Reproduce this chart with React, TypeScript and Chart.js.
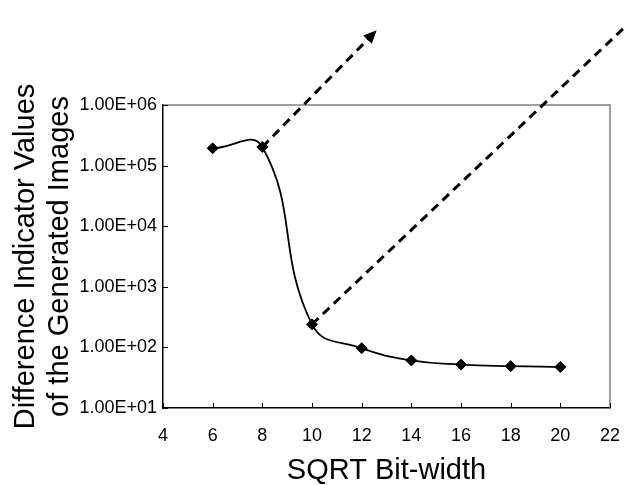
import { useEffect, useRef } from "react";
import { Chart, registerables } from "chart.js";

Chart.register(...registerables);

const xValues = [6, 8, 10, 12, 14, 16, 18, 20];
const yValues = [1.93e5, 2.03e5, 240, 97, 61, 52, 49, 47.5];
const arrowAX = [8, 12.42];
const arrowAY = [2.03e5, 1.43e7];
const arrowBX = [10, 22.6];
const arrowBY = [240, 1.94e7];
const xTicks = [4, 6, 8, 10, 12, 14, 16, 18, 20, 22];
const yTicks = [1e1, 1e2, 1e3, 1e4, 1e5, 1e6];
const yTitle = ["Difference Indicator Values", "of the Generated Images"];
const xTitle = "SQRT Bit-width";

const FONT = "'Liberation Sans', Arial, Helvetica, sans-serif";

const fmtExp = (v: number) => {
  const e = Math.round(Math.log10(v));
  return `1.00E+${String(e).padStart(2, "0")}`;
};

const framePlugin = {
  id: "frameTicks",
  beforeDatasetsDraw(chart: any) {
    const { ctx, chartArea, scales } = chart;
    const { left, right, top, bottom } = chartArea;
    ctx.save();
    ctx.strokeStyle = "#808080";
    ctx.lineWidth = 1.5;
    ctx.beginPath();
    ctx.moveTo(left, top);
    ctx.lineTo(right, top);
    ctx.lineTo(right, bottom);
    ctx.stroke();
    ctx.strokeStyle = "#000";
    ctx.lineWidth = 1;
    ctx.beginPath();
    for (const t of scales.x.ticks) {
      const px = Math.round(scales.x.getPixelForValue(t.value)) + 0.5;
      ctx.moveTo(px, bottom);
      ctx.lineTo(px, bottom - 5);
    }
    for (const t of scales.y.ticks) {
      const py = Math.round(scales.y.getPixelForValue(t.value)) + 0.5;
      ctx.moveTo(left, py);
      ctx.lineTo(left + 5, py);
    }
    ctx.stroke();
    ctx.restore();
  },
  afterDatasetsDraw(chart: any) {
    // arrowhead at the end of the first dashed line
    const meta = chart.getDatasetMeta(1);
    const pts = meta.data;
    if (!pts || pts.length < 2) return;
    const a = pts[pts.length - 2];
    const b = pts[pts.length - 1];
    const ang = Math.atan2(b.y - a.y, b.x - a.x);
    const len = 13;
    const half = 6;
    const { ctx } = chart;
    ctx.save();
    ctx.fillStyle = "#000";
    ctx.translate(b.x, b.y);
    ctx.rotate(ang);
    ctx.beginPath();
    ctx.moveTo(len / 2, 0);
    ctx.lineTo(-len / 2, -half);
    ctx.lineTo(-len / 2, half);
    ctx.closePath();
    ctx.fill();
    ctx.restore();
  },
};

export default function App() {
  const ref = useRef<HTMLCanvasElement>(null);
  useEffect(() => {
    if (!ref.current) return;
    Chart.defaults.font.family = FONT;
    Chart.defaults.color = "#000";
    const chart = new Chart(ref.current, {
      type: "line",
      data: {
        datasets: [
          {
            data: xValues.map((x, i) => ({ x, y: yValues[i] })),
            borderColor: "#000",
            backgroundColor: "#000",
            borderWidth: 1.8,
            tension: 0.45,
            pointStyle: "rectRot",
            pointRadius: 5.5,
            pointBorderWidth: 1,
            pointBackgroundColor: "#000",
            pointBorderColor: "#000",
            fill: false,
          },
          {
            data: arrowAX.map((x, i) => ({ x, y: arrowAY[i] })),
            borderColor: "#000",
            borderWidth: 3,
            borderDash: [9, 6],
            tension: 0,
            pointRadius: 0,
            clip: false as any,
            fill: false,
          },
          {
            data: arrowBX.map((x, i) => ({ x, y: arrowBY[i] })),
            borderColor: "#000",
            borderWidth: 3,
            borderDash: [9, 6],
            tension: 0,
            pointRadius: 0,
            clip: false as any,
            fill: false,
          },
        ],
      },
      options: {
        responsive: false,
        animation: false,
        devicePixelRatio: 1,
        layout: { padding: { top: 105, right: 18, left: 0, bottom: 0 } },
        plugins: { legend: { display: false }, tooltip: { enabled: false } },
        scales: {
          x: {
            type: "linear",
            min: 4,
            max: 22,
            afterBuildTicks: (s: any) => {
              s.ticks = xTicks.map((v) => ({ value: v }));
            },
            afterFit: (s: any) => {
              s.height = 77;
              s.paddingLeft = 0;
              s.paddingRight = 0;
            },
            grid: { display: false, drawTicks: false },
            border: { display: true, color: "#000", width: 1.5 },
            ticks: { font: { size: 18 }, color: "#000", padding: 17, maxRotation: 0 },
            title: {
              display: true,
              text: xTitle,
              color: "#000",
              font: { size: 29, lineHeight: 1 },
              padding: { top: 0, bottom: 0 },
            },
          },
          y: {
            type: "logarithmic",
            min: 10,
            max: 1e6,
            afterBuildTicks: (s: any) => {
              s.ticks = yTicks.map((v) => ({ value: v }));
            },
            afterFit: (s: any) => {
              s.width = 163;
              s.paddingTop = 0;
              s.paddingBottom = 0;
            },
            grid: { display: false, drawTicks: false },
            border: { display: true, color: "#000", width: 1.5 },
            ticks: {
              font: { size: 18 },
              color: "#000",
              padding: 6,
              callback: (v: any) => fmtExp(Number(v)),
            },
            title: {
              display: true,
              text: yTitle,
              color: "#000",
              font: { size: 29, lineHeight: 1.17 },
              padding: { top: 9, bottom: 0 },
            },
          },
        },
      },
      plugins: [framePlugin],
    } as any);
    return () => chart.destroy();
  }, []);
  return (
    <div style={{ position: "fixed", left: 0, top: 0, width: 628, height: 485, background: "#fff" }}>
      <canvas ref={ref} width={628} height={485} style={{ display: "block" }} />
    </div>
  );
}
